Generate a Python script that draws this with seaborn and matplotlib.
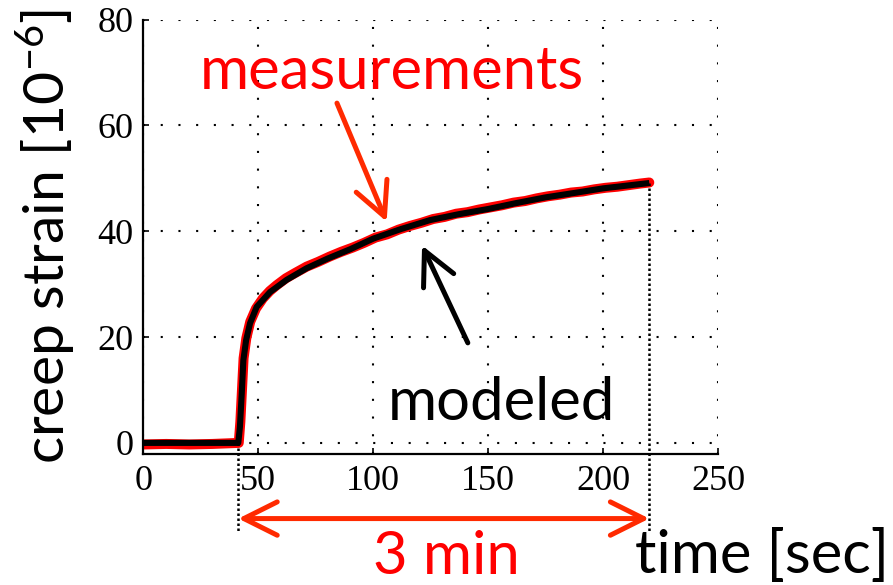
import matplotlib
matplotlib.use("Agg")
import matplotlib.pyplot as plt
import seaborn as sns
import pandas as pd

# --- data -------------------------------------------------------------
# measured creep strain (1e-6) vs time (s)
meas_t = [0, 10, 20, 30, 41.5, 42.2, 42.9, 43.6, 44.8, 46.5, 49, 52, 55, 58,
          62, 66, 71, 76, 81, 86, 91, 96, 101, 106, 111, 116, 121, 126, 131,
          136, 141, 146, 151, 156, 161, 166, 171, 176, 181, 186, 191, 196,
          201, 206, 211, 216, 220]
meas_v = [-0.3, -0.2, -0.3, -0.2, 0.0, 4.0, 10.0, 16.0, 19.8, 22.9, 25.4, 27.3,
          28.7, 29.8, 31.1, 32.1, 33.3, 34.2, 35.2, 36.1, 36.9, 37.8, 38.8,
          39.4, 40.3, 41.0, 41.6, 42.3, 42.7, 43.3, 43.6, 44.1, 44.5, 44.9,
          45.4, 45.7, 46.2, 46.6, 46.9, 47.3, 47.5, 47.9, 48.2, 48.4, 48.7,
          49.0, 49.2]

# model prediction
model_t = [0, 41.3, 42.0, 42.8, 43.5, 44.7, 46.4, 49.3, 55.1, 62.3, 71.0, 80.0,
           90.0, 100.0, 112.0, 124.7, 137.0, 150.0, 162.0, 175.0, 187.0,
           200.0, 210.0, 220.0]
model_v = [0.0, 0.0, 3.0, 9.3, 15.6, 19.4, 22.6, 25.7, 28.5, 30.8, 33.0, 34.8,
           36.6, 38.6, 40.4, 42.1, 43.2, 44.2, 45.3, 46.4, 47.2, 48.1, 48.6,
           49.1]

x_ticks = [0, 50, 100, 150, 200, 250]
y_ticks = [0, 20, 40, 60, 80]

load_start = 41.3   # s, load applied
load_end = 220.0    # s, end of record

meas = pd.DataFrame({"t": meas_t, "strain": meas_v})
model = pd.DataFrame({"t": model_t, "strain": model_v})

# --- style ------------------------------------------------------------
sns.set_theme(style="white")
plt.rcParams["font.family"] = ["Lato", "DejaVu Sans"]
plt.rcParams["mathtext.fontset"] = "custom"
plt.rcParams["mathtext.rm"] = "Lato"
plt.rcParams["mathtext.it"] = "Lato:italic"

RED_TXT = "#ff0000"
RED_ARW = "#ff2a00"
SERIF = ["Liberation Serif", "DejaVu Serif"]
BIG = 43

fig = plt.figure(figsize=(8.93, 5.85), dpi=100)
W, H = 893, 585
ax = fig.add_axes([143.3 / W, 1 - 454 / H, (718.3 - 143.3) / W, (454 - 19.5) / H])

sns.lineplot(data=meas, x="t", y="strain", ax=ax, color="red", lw=7.2,
             estimator=None, sort=False)
sns.lineplot(data=model, x="t", y="strain", ax=ax, color="black", lw=4.4,
             estimator=None, sort=False, solid_capstyle="butt")

ax.set_xlim(0, 250)
ax.set_ylim(-2.1, 80)
ax.set_xticks(x_ticks)
ax.set_yticks(y_ticks)
ax.set_xticklabels([str(v) for v in x_ticks], fontfamily=SERIF, fontsize=26)
ax.set_yticklabels([str(v) for v in y_ticks], fontfamily=SERIF, fontsize=26)

ax.grid(True, color="black", linestyle=(0, (1, 7.5)), lw=1.5)
for side in ("top", "right"):
    ax.spines[side].set_visible(False)
for side in ("left", "bottom"):
    ax.spines[side].set_color("black")
    ax.spines[side].set_linewidth(1.6)
ax.tick_params(axis="both", direction="in", length=4.5, width=1.2,
               color="black", labelcolor="black", top=False, right=False,
               left=True, bottom=True)
ax.tick_params(axis="x", pad=8)
ax.tick_params(axis="y", pad=7)

# axis labels
ax.set_ylabel("creep strain [10$^{\\mathregular{-6}}$]", fontsize=41,
              color="black")
ax.yaxis.set_label_coords((78 - 143.3) / 575, 0.5)
ax.set_xlabel("time [sec]", fontsize=BIG, color="black")
ax.xaxis.set_label_coords((762 - 143.3) / 575, (454 - 573.3) / 434.5)
ax.xaxis.label.set_va("baseline")

# duration markers below the axis
for tx, top in ((load_start, 0.0), (load_end, model_v[-1])):
    ax.plot([tx, tx], [top, -17.1], color="black", lw=1.8, ls=(0, (1, 1)),
            clip_on=False)

arrow_kw = dict(lw=3.6, mutation_scale=20, shrinkA=0, shrinkB=0,
                capstyle="round", joinstyle="round")

ax.annotate("", xy=(load_start, -14.3), xytext=(load_end, -14.3),
            arrowprops=dict(arrowstyle="<->,head_length=1.2,head_width=0.6",
                            color=RED_ARW, **arrow_kw),
            annotation_clip=False)
ax.text(131.6, -24.7, "3 min", color=RED_TXT, fontsize=BIG, ha="center",
        va="baseline", clip_on=False)

# labels for the two curves
ax.text(108.1, 66.9, "measurements", color=RED_TXT, fontsize=BIG,
        ha="center", va="baseline")
ax.annotate("", xy=(105.8, 41.8), xytext=(84.2, 64.2),
            arrowprops=dict(arrowstyle="->,head_length=1.2,head_width=0.6",
                            color=RED_ARW, **arrow_kw))

ax.text(155.5, 4.3, "modeled", color="black", fontsize=BIG, ha="center",
        va="baseline")
ax.annotate("", xy=(121.2, 37.3), xytext=(141.1, 18.9),
            arrowprops=dict(arrowstyle="->,head_length=1.2,head_width=0.6",
                            color="black", **arrow_kw))

fig.savefig("out.png", dpi=100)
